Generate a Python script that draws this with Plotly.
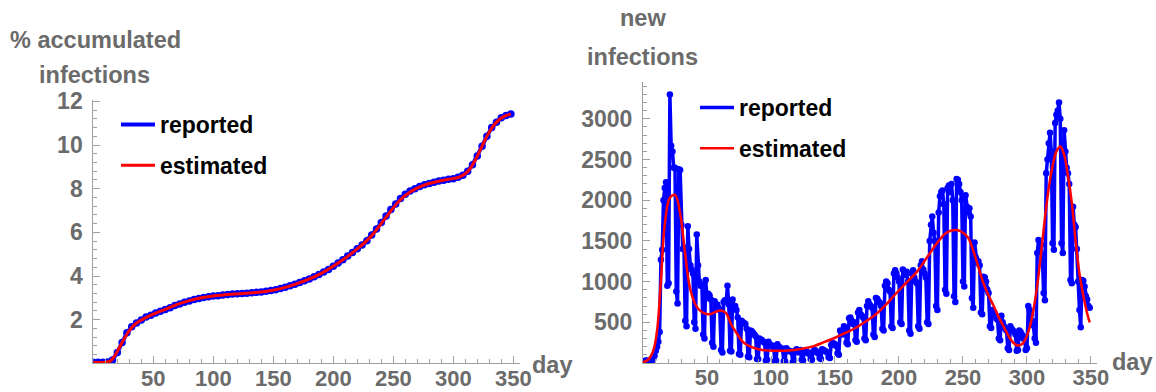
import plotly.graph_objects as go

# ---------------- data ----------------
# left panel: % accumulated infections (reported, sampled every 4 days)
cum_days = list(range(0, 349, 4))
cum_reported = [0.05, 0.05, 0.05, 0.06, 0.15, 0.5, 0.95, 1.4, 1.68, 1.85, 1.98, 2.12, 2.2, 2.3, 2.38, 2.46,
                2.55, 2.65, 2.72, 2.8, 2.86, 2.92, 2.97, 3.01, 3.05, 3.08, 3.1, 3.13, 3.15, 3.17, 3.19, 3.2,
                3.21, 3.23, 3.25, 3.27, 3.3, 3.33, 3.37, 3.43, 3.49, 3.55, 3.62, 3.7, 3.78, 3.86, 3.96, 4.07,
                4.18, 4.3, 4.45, 4.6, 4.75, 4.92, 5.08, 5.25, 5.42, 5.62, 5.88, 6.15, 6.45, 6.75, 7.05, 7.3,
                7.55, 7.75, 7.9, 8.0, 8.1, 8.18, 8.24, 8.3, 8.35, 8.39, 8.43, 8.46, 8.52, 8.62, 8.8, 9.1,
                9.5, 9.95, 10.4, 10.8, 11.05, 11.25, 11.35, 11.42]
cum_est_days = [0, 10, 14, 18, 22, 26, 30, 35, 40, 50, 60, 70, 80, 90, 100, 115, 130, 145, 160, 175, 190,
                205, 220, 232, 244, 255, 265, 275, 285, 295, 305, 312, 318, 324, 330, 336, 342, 348]
cum_estimated = [0.05, 0.05, 0.1, 0.35, 0.75, 1.15, 1.5, 1.8, 1.98, 2.25, 2.47, 2.7, 2.87, 3.0, 3.08, 3.16,
                 3.22, 3.3, 3.48, 3.75, 4.12, 4.63, 5.24, 5.85, 6.7, 7.45, 7.88, 8.15, 8.31, 8.42, 8.53,
                 8.78, 9.28, 9.95, 10.6, 11.05, 11.3, 11.42]

# right panel: new infections per day (reported)
new_days = list(range(0, 350))
new_reported = [
    10, 20, 30, 25, 30, 10, 15,
    30, 50, 90, 150, 200, 260, 380,
    1270, 1390, 2000, 2150, 2220, 950, 980,
    3300, 2670, 2600, 2400, 2400, 880, 730,
    2380, 2370, 1700, 1400, 1420, 520, 450,
    1680, 1400, 1200, 1150, 1100, 500, 420,
    1580, 1200, 1000, 950, 960, 350, 300,
    1020, 800, 850, 830, 780, 250, 200,
    760, 700, 720, 680, 650, 160, 130,
    750, 770, 760, 950, 720, 150, 140,
    780, 700, 700, 650, 560, 110, 100,
    520, 500, 490, 480, 420, 80, 70,
    400, 390, 370, 350, 330, 50, 50,
    300, 290, 280, 260, 250, 30, 40,
    260, 230, 220, 200, 210, 20, 30,
    230, 200, 190, 180, 170, 20, 20,
    180, 160, 150, 140, 140, 10, 30,
    150, 170, 140, 130, 160, 40, 30,
    130, 150, 140, 120, 110, 50, 40,
    140, 160, 150, 130, 120, 60, 50,
    170, 160, 150, 140, 130, 70, 60,
    220, 250, 240, 230, 210, 120, 100,
    400, 380, 350, 450, 430, 250, 230,
    550, 560, 520, 480, 500, 280, 260,
    620, 650, 600, 580, 560, 300, 280,
    700, 760, 720, 700, 680, 350, 320,
    800, 790, 760, 740, 700, 420, 400,
    950, 1000, 980, 900, 880, 450, 430,
    1100, 1140, 1100, 1050, 1000, 500, 480,
    1150, 1100, 1080, 1120, 1000, 400, 360,
    1100, 1140, 1050, 1000, 980, 450, 420,
    1200, 1250, 1150, 1100, 1050, 500, 480,
    1500, 1700, 1800, 1600, 1500, 700, 650,
    1850, 2050, 2100, 2120, 1950, 900, 850,
    2150, 2180, 2100, 2200, 2000, 820, 750,
    2260, 2250, 2200, 2100, 2000, 1000, 940,
    2060, 1920, 1850, 1900, 1800, 800, 680,
    1480, 1300, 1240, 1250, 1200, 620, 600,
    1060, 1050, 1000, 900, 860, 450, 430,
    650, 620, 600, 550, 530, 300, 280,
    580, 500, 450, 420, 400, 180, 160,
    450, 420, 400, 380, 350, 150, 160,
    400, 380, 350, 300, 320, 160, 180,
    700, 650, 600, 520, 460, 300, 250,
    1350, 1510, 1400, 1450, 1300, 860, 770,
    2330, 2500, 2700, 2830, 2600, 1470, 1390,
    2950, 3050, 3100, 3200, 3000, 1470, 1350,
    2860, 2600, 2400, 2330, 2200, 1020, 980,
    1920, 1700, 1670, 1400, 1000, 650, 440,
    1020, 1010, 940, 820, 780, 700, 680,
]
new_est_days = [0, 4, 8, 11, 14, 17, 21, 25, 29, 33, 37, 42, 47, 52, 57, 61, 65, 69, 73, 78, 84, 90, 96,
                103, 110, 118, 126, 134, 142, 150, 158, 166, 174, 182, 190, 198, 206, 214, 222, 230, 237,
                242, 246, 250, 254, 258, 262, 266, 270, 274, 278, 282, 286, 290, 293, 296, 299, 302, 305,
                308, 311, 314, 317, 320, 323, 326, 329, 332, 335, 338, 341, 344, 347, 349]
new_estimated = [10, 40, 150, 400, 1020, 1700, 2030, 2065, 1840, 1330, 900, 690, 615, 600, 630, 645, 610,
                 470, 370, 260, 200, 170, 155, 150, 150, 160, 180, 210, 260, 310, 370, 430, 510, 600, 720,
                 860, 990, 1120, 1300, 1480, 1600, 1630, 1630, 1600, 1540, 1380, 1180, 980, 830, 700, 560,
                 440, 320, 240, 215, 230, 300, 430, 650, 950, 1350, 1780, 2150, 2420, 2600, 2660, 2560,
                 2300, 1970, 1500, 1100, 830, 610, 500]

x_ticks = [50, 100, 150, 200, 250, 300, 350]
left_y_ticks = [2, 4, 6, 8, 10, 12]
right_y_ticks = [500, 1000, 1500, 2000, 2500, 3000]

# ---------------- styling ----------------
W, H = 1156, 392
BLUE = "rgb(0,0,255)"
RED = "rgb(255,0,0)"
GRAY = "#6b6b6b"
AXC = "#a0a0a0"
FONT = "Liberation Sans, Arial, sans-serif"


def px_x(p):
    return p / W


def px_y(p):
    return 1 - p / H


fig = go.Figure()

# left panel
fig.add_trace(go.Scatter(x=cum_days, y=cum_reported, mode="lines", name="reported",
                         line=dict(color=BLUE, width=4), xaxis="x", yaxis="y",
                         legend="legend", legendgroup="a"))
fig.add_trace(go.Scatter(x=cum_days, y=cum_reported, mode="markers", showlegend=False,
                         marker=dict(color=BLUE, size=7.5), xaxis="x", yaxis="y"))
fig.add_trace(go.Scatter(x=cum_est_days, y=cum_estimated, mode="lines", name="estimated",
                         line=dict(color=RED, width=3, shape="spline"), xaxis="x", yaxis="y",
                         legend="legend", legendgroup="b"))

# right panel
fig.add_trace(go.Scatter(x=new_days, y=new_reported, mode="lines", name="reported",
                         line=dict(color=BLUE, width=3.5), xaxis="x2", yaxis="y2",
                         legend="legend2", legendgroup="c"))
fig.add_trace(go.Scatter(x=new_days, y=new_reported, mode="markers", showlegend=False,
                         marker=dict(color=BLUE, size=6.5), xaxis="x2", yaxis="y2"))
fig.add_trace(go.Scatter(x=new_est_days, y=new_estimated, mode="lines", name="estimated",
                         line=dict(color=RED, width=2.5, shape="spline"), xaxis="x2", yaxis="y2",
                         legend="legend2", legendgroup="d"))

ytickfont = dict(family=FONT, size=23, color=GRAY, weight="bold")
xtickfont = dict(family=FONT, size=22, color=GRAY, weight="bold")


def xaxis(domain, rng, anchor):
    return dict(domain=domain, range=rng, anchor=anchor, showgrid=False, zeroline=False,
                showline=True, linecolor=AXC, linewidth=1, automargin=False,
                tickmode="array", tickvals=x_ticks, ticks="inside", ticklen=7, tickcolor=AXC,
                tickfont=xtickfont, ticklabelstandoff=-5,
                minor=dict(tickmode="linear", tick0=0, dtick=10, ticks="inside", ticklen=4,
                           tickcolor=AXC, showgrid=False))


def yaxis(domain, rng, anchor, vals, mdt):
    return dict(domain=domain, range=rng, anchor=anchor, showgrid=False, zeroline=False,
                showline=True, linecolor=AXC, linewidth=1, automargin=False,
                tickmode="array", tickvals=vals, ticks="inside", ticklen=7, tickcolor=AXC,
                tickfont=ytickfont, ticklabelstandoff=5,
                minor=dict(tickmode="linear", tick0=0, dtick=mdt, ticks="inside", ticklen=4,
                           tickcolor=AXC, showgrid=False))


legfont = dict(family=FONT, size=23, color="black", weight="bold")

fig.update_layout(
    width=W, height=H,
    margin=dict(l=0, r=0, t=0, b=0, autoexpand=False),
    paper_bgcolor="white", plot_bgcolor="white",
    showlegend=True,
    xaxis=xaxis([px_x(93.3), px_x(520)], [0, 355.6], "y"),
    yaxis=yaxis([px_y(363.3), px_y(100.3)], [0, 12.05], "x", left_y_ticks, 0.4),
    xaxis2=xaxis([px_x(643), px_x(1097)], [0, 354.7], "y2"),
    yaxis2=yaxis([px_y(363), px_y(82.2)], [0, 3450], "x2", right_y_ticks, 100),
    legend=dict(x=px_x(116), y=px_y(103), xanchor="left", yanchor="top", font=legfont,
                bgcolor="rgba(0,0,0,0)", tracegroupgap=8, traceorder="grouped", itemwidth=34),
    legend2=dict(x=px_x(695), y=px_y(86), xanchor="left", yanchor="top", font=legfont,
                 bgcolor="rgba(0,0,0,0)", tracegroupgap=8, traceorder="grouped", itemwidth=34),
)

labfont = dict(family=FONT, size=23.5, color=GRAY, weight="bold")
labels = [
    ("% accumulated", 95, 40),
    ("infections", 94, 75),
    ("day", 552, 365),
    ("new", 643, 18),
    ("infections", 642, 57),
    ("day", 1132, 362),
]
for txt, cx, cy in labels:
    fig.add_annotation(text=txt, x=px_x(cx), y=px_y(cy), xref="paper", yref="paper",
                       xanchor="center", yanchor="middle", showarrow=False, font=labfont)

fig.write_html("out.html", config={"responsive": False},
               post_script="document.body.style.margin='0';document.body.style.overflow='hidden';")
